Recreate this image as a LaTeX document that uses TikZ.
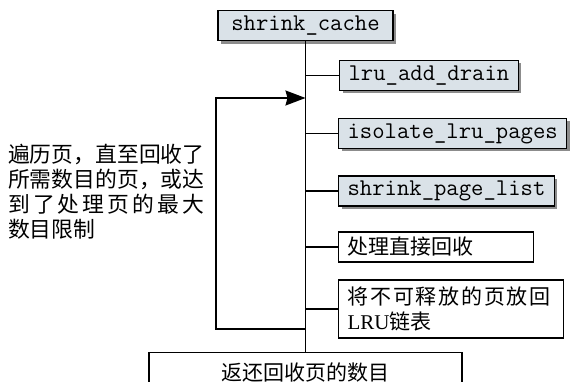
\documentclass[tikz,border=0pt]{standalone}
\usepackage{fontspec}
\setmainfont{Liberation Serif}
\newfontfamily\cjk{Noto Sans CJK SC}
\usetikzlibrary{
  arrows.meta,
  positioning,
  shadows
}
\definecolor{kmFill}{HTML}{DAE2E8}
\definecolor{kmShadow}{HTML}{8C8C8C}
\tikzset{
  kmnode/.style={
    draw, line width=1.2pt, minimum height=30pt, inner xsep=9pt, anchor=west
  },
  funcbox/.style={kmnode, fill=kmFill, font=\fontsize{24}{26}\selectfont\ttfamily,
    drop shadow={shadow xshift=3pt, shadow yshift=-3pt, fill=kmShadow, opacity=1}},
  stepbox/.style={kmnode, fill=white, font=\fontsize{21}{25}\selectfont\cjk, align=left},
  trunk/.style={line width=1.6pt},
  flow/.style={trunk, -{Stealth[length=20pt, width=15pt, inset=2pt]}},
  note/.style={font=\fontsize{21.8}{25}\selectfont\cjk, align=left, anchor=west, inner sep=0pt}
}

\begin{document}
\begin{tikzpicture}[x=1pt, y=-1pt]
  \useasboundingbox (0,0) rectangle (572,382);
  \clip (0,0) rectangle (572,382);
  % called functions
  \node[funcbox, anchor=north, minimum width=175pt] (cache) at (305.5,10) {shrink\_cache};
  \node[funcbox] (drain) at (339,75.5) {lru\_add\_drain};
  \node[funcbox] (isolate) at (338,133.5) {isolate\_lru\_pages};
  \node[funcbox] (pagelist) at (338,191) {shrink\_page\_list};
  % plain steps
  \node[stepbox, text width=177pt] (direct) at (338,247) {处理直接回收};
  \node[stepbox, text width=207pt, minimum height=58pt] (putback) at (338,309) {\makebox[203pt][s]{将\hfill 不\hfill 可\hfill 释\hfill 放\hfill 的\hfill 页\hfill 放\hfill 回}\\{\rmfamily LRU}链表};
  \node[stepbox, anchor=north, minimum width=313pt, minimum height=40pt, align=center] (ret) at (305.5,352) {返还回收页的数目};
  \node[note] (loopnote) at (8,192) {遍历页，直至回收了\\所需数目的页，或达\\\makebox[196pt][s]{到\hfill 了\hfill 处\hfill 理\hfill 页\hfill 的\hfill 最\hfill 大}\\数目限制};
  % connectors
  \draw[trunk] (cache.south) -- (ret.north);
  \foreach \t in {drain, isolate, pagelist, direct, putback}
    \draw[trunk] (cache.south |- \t.west) -- (\t.west);
  \coordinate (loopbot) at (305.5,329);
  \coordinate (loopleft) at (216,98);
  \coordinate (looptop) at (305.5,98);
  \draw[flow] (loopbot) -| (loopleft) -- (looptop);
\end{tikzpicture}
\end{document}
